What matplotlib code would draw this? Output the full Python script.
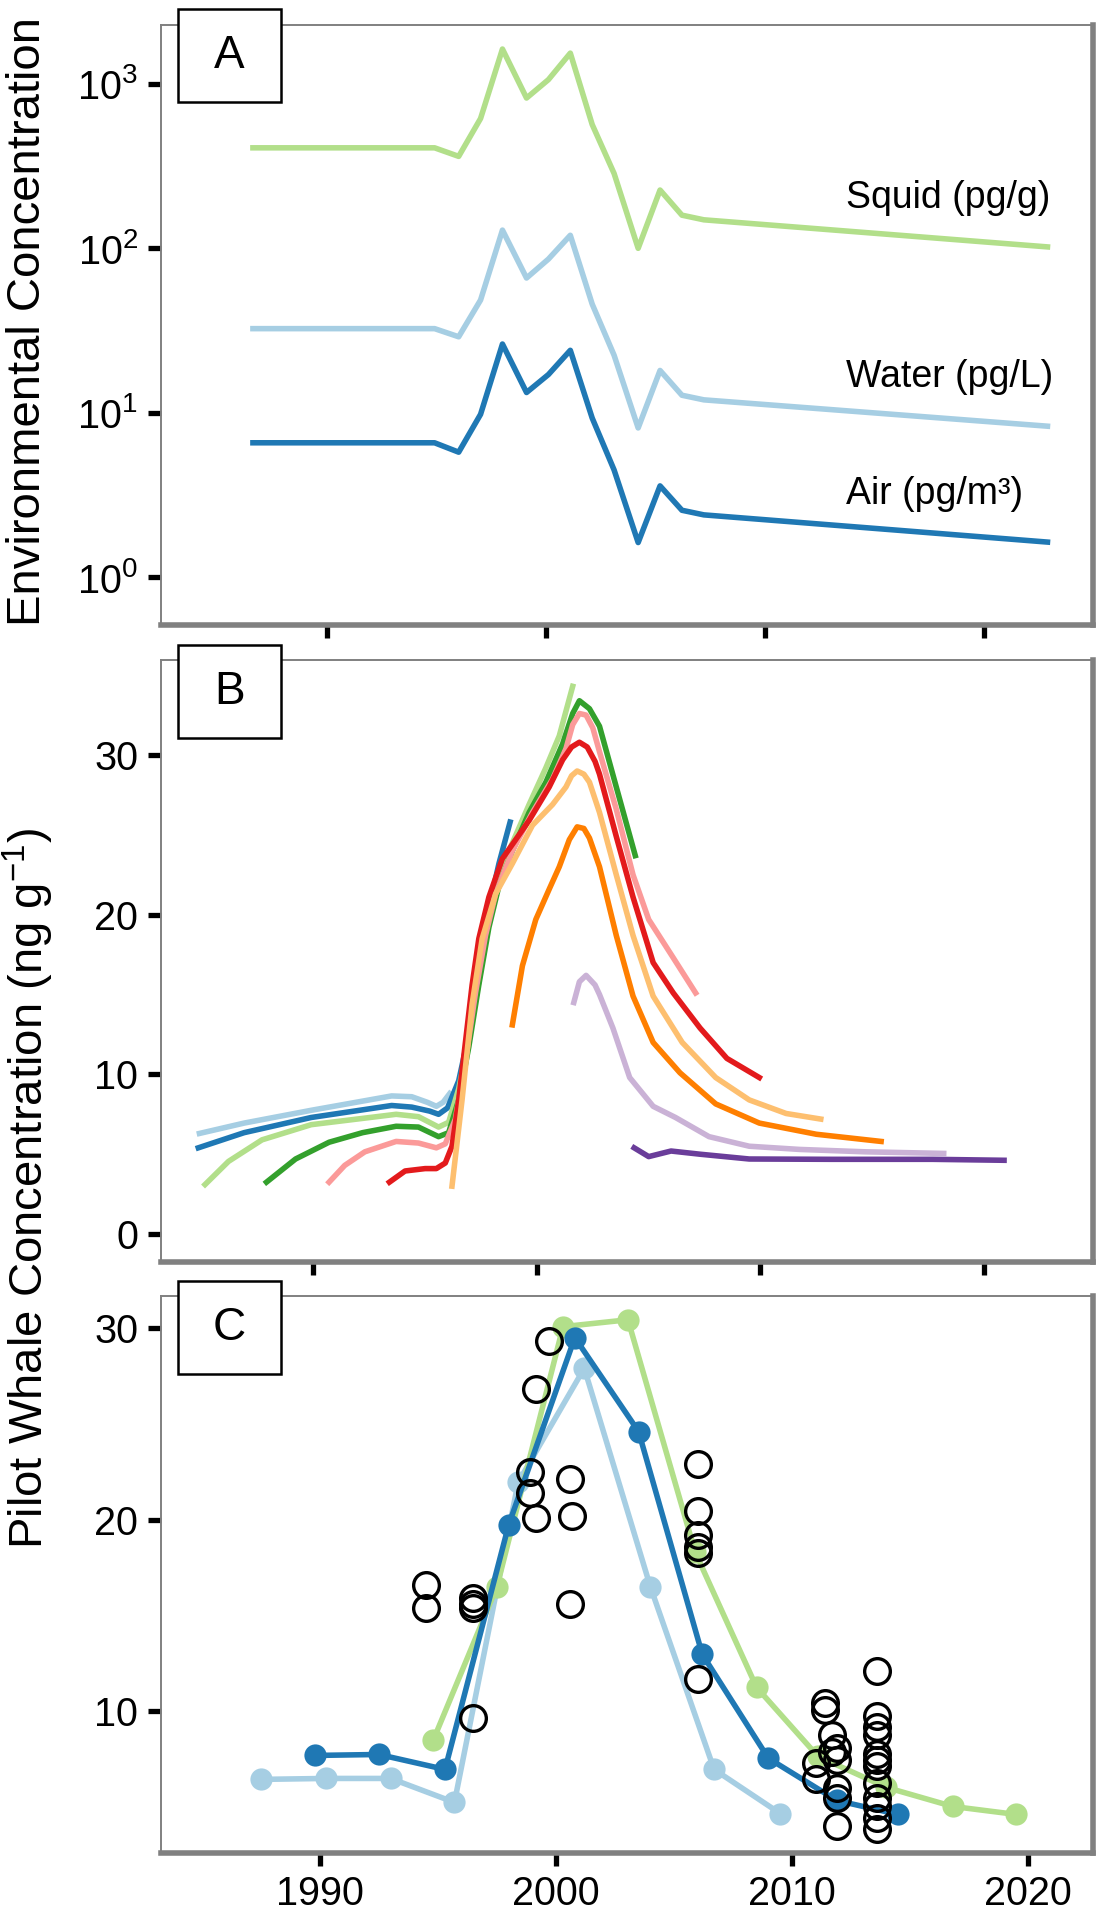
import matplotlib
matplotlib.use("Agg")
import matplotlib.pyplot as plt
from matplotlib.patches import Rectangle

plt.rcParams["font.family"] = ["Liberation Sans", "DejaVu Sans"]
plt.rcParams["mathtext.default"] = "regular"

# ---- Panel A: environmental concentrations (log scale) ----
env_years = [1986.6, 1994.9, 1996.0, 1997.0, 1998.0, 1999.1, 2000.1, 2001.1,
             2002.1, 2003.1, 2004.2, 2005.2, 2006.2, 2007.2, 2022.9]
squid = [408, 408, 362, 615, 1625, 819, 1059, 1535, 565, 285, 100, 226, 159, 149, 102]
water = [32.5, 32.5, 29, 48.5, 129, 66, 86, 120, 45.8, 22.4, 8.1, 18.1, 12.8, 12.0, 8.3]
air = [6.58, 6.58, 5.77, 9.8, 26.2, 13.3, 17.1, 24.0, 9.3, 4.5, 1.63, 3.6, 2.56, 2.4, 1.64]
env_labels = ["Squid (pg/g)", "Water (pg/L)", "Air (pg/m³)"]
env_label_x = 2013.7
env_label_y = [203, 16.6, 3.23]

# ---- Panel B: modelled cohort curves ----
cohorts = {
    "#A6CEE3": ([1984.9, 1986.9, 1989.9, 1993.5, 1994.4, 1995.1, 1995.5, 1995.8, 1996.1],
                [6.3, 6.95, 7.75, 8.65, 8.6, 8.25, 8.0, 8.25, 8.8]),
    "#1F78B4": ([1984.85, 1986.9, 1989.9, 1993.5, 1994.4, 1995.2, 1995.6, 1996.0, 1996.5,
                 1996.95, 1997.4, 1997.85, 1998.3, 1998.8],
                [5.4, 6.35, 7.3, 8.05, 7.95, 7.7, 7.5, 7.9, 9.6, 12.5, 16.3, 20.4, 23.2, 25.8]),
    "#B2DF8A": ([1985.15, 1986.2, 1987.7, 1989.9, 1993.7, 1994.7, 1995.6, 1996.05, 1996.5,
                 1996.95, 1997.4, 1997.85, 1998.3, 1998.75, 1999.65, 2000.4, 2001.0, 2001.6],
                [3.1, 4.55, 5.9, 6.85, 7.5, 7.35, 6.7, 7.0, 9.1, 12.2, 15.8, 19.7, 22.0, 24.0,
                 26.9, 29.2, 31.2, 34.3]),
    "#33A02C": ([1987.9, 1989.2, 1990.7, 1992.2, 1993.7, 1994.7, 1995.6, 1996.05, 1996.5,
                 1996.95, 1997.4, 1997.85, 1998.3, 1998.9, 1999.65, 2000.4, 2001.15, 2001.6,
                 2001.9, 2002.35, 2002.8, 2003.55, 2004.4],
                [3.25, 4.7, 5.75, 6.35, 6.75, 6.7, 6.1, 6.35, 8.4, 11.7, 15.6, 19.2, 21.8, 24.0,
                 26.4, 28.3, 30.7, 32.6, 33.4, 32.9, 31.8, 28.0, 23.7]),
    "#FB9A99": ([1990.7, 1991.4, 1992.3, 1993.7, 1994.7, 1995.5, 1995.9, 1996.35, 1996.8,
                 1997.25, 1997.7, 1998.15, 1998.9, 1999.8, 2000.7, 2001.3, 2001.6, 2001.9,
                 2002.2, 2002.5, 2002.8, 2003.55, 2004.3, 2005.0, 2006.1, 2007.1],
                [3.25, 4.3, 5.15, 5.8, 5.7, 5.4, 5.65, 7.2, 10.8, 15.1, 18.7, 21.3, 24.0, 26.4,
                 28.5, 30.4, 31.9, 32.6, 32.5, 31.7, 30.2, 26.6, 22.5, 19.7, 17.3, 15.1]),
    "#E31A1C": ([1993.4, 1994.1, 1995.0, 1995.5, 1995.9, 1996.2, 1996.5, 1996.8, 1997.1,
                 1997.4, 1997.85, 1998.45, 1999.65, 2000.55, 2001.15, 2001.55, 2001.9,
                 2002.25, 2002.6, 2002.8, 2003.55, 2004.3, 2005.2, 2006.1, 2007.3, 2008.5,
                 2009.95],
                [3.25, 3.95, 4.1, 4.1, 4.45, 5.5, 8.4, 12.0, 15.6, 18.5, 21.1, 23.5, 25.9, 28.0,
                 29.7, 30.5, 30.8, 30.5, 29.6, 28.8, 24.9, 21.1, 17.0, 15.1, 12.9, 11.0, 9.8]),
    "#FDBF6F": ([1996.2, 1996.65, 1997.1, 1997.55, 1998.15, 1998.9, 1999.8, 2000.7, 2001.3,
                 2001.55, 2001.8, 2002.1, 2002.35, 2002.8, 2003.55, 2004.3, 2005.2, 2006.5,
                 2008.0, 2009.5, 2011.15, 2012.7],
                [3.0, 8.4, 14.4, 18.5, 21.3, 23.2, 25.6, 26.9, 28.0, 28.7, 29.0, 28.8, 28.3,
                 26.4, 22.5, 18.7, 14.9, 12.0, 9.8, 8.4, 7.55, 7.2]),
    "#FF7F00": ([1998.9, 1999.35, 1999.95, 2000.55, 2001.0, 2001.45, 2001.8, 2002.1, 2002.35,
                 2002.8, 2003.55, 2004.3, 2005.2, 2006.4, 2008.0, 2009.95, 2012.5, 2015.4],
                [13.1, 16.8, 19.7, 21.6, 23.0, 24.7, 25.5, 25.4, 24.8, 23.0, 18.7, 14.9, 12.0,
                 10.1, 8.15, 6.95, 6.25, 5.8]),
    "#CAB2D6": ([2001.65, 2001.9, 2002.2, 2002.6, 2002.8, 2003.4, 2004.15, 2005.2, 2006.2,
                 2007.7, 2009.5, 2011.75, 2014.7, 2018.2],
                [14.5, 15.8, 16.2, 15.6, 15.0, 12.9, 9.8, 8.0, 7.3, 6.1, 5.5, 5.3, 5.15, 5.05]),
    "#6A3D9A": ([2004.35, 2005.0, 2006.0, 2007.3, 2009.5, 2013.2, 2017.7, 2020.9],
                [5.4, 4.85, 5.2, 5.0, 4.7, 4.68, 4.68, 4.62]),
}

# ---- Panel C: observed whale concentrations and fitted series ----
lb_years = [1987.5, 1990.25, 1993.0, 1995.7, 1998.4, 2001.2, 2004.0, 2006.7, 2009.5]
lb_vals = [6.45, 6.5, 6.5, 5.25, 21.95, 27.9, 16.5, 6.97, 4.67]
db_years = [1989.8, 1992.5, 1995.3, 1998.0, 2000.8, 2003.5, 2006.2, 2009.0, 2011.9, 2014.5]
db_vals = [7.7, 7.75, 6.97, 19.74, 29.5, 24.6, 12.97, 7.55, 5.35, 4.62]
lg_years = [1994.8, 1997.5, 2000.3, 2003.05, 2005.9, 2008.5, 2011.1, 2014.0, 2016.8, 2019.5]
lg_vals = [8.49, 16.5, 30.07, 30.43, 18.3, 11.25, 7.65, 6.03, 5.04, 4.62]

obs_years = [1994.5, 1994.5, 1996.5, 1996.5, 1996.5, 1996.5,
             1998.9, 1998.9, 1999.15, 1999.15, 1999.7,
             2000.6, 2000.7, 2000.6,
             2006.0, 2006.0, 2006.0, 2006.0, 2006.0, 2006.0,
             2011.4, 2011.4, 2011.7, 2011.9, 2011.9, 2011.0, 2011.0, 2011.9, 2011.9, 2011.9, 2011.7,
             2013.6, 2013.6, 2013.6, 2013.6, 2013.6, 2013.6, 2013.6, 2013.6, 2013.6, 2013.6,
             2013.6, 2013.6]
obs_vals = [16.6, 15.4, 15.9, 15.6, 15.4, 9.64,
            22.5, 21.4, 20.1, 26.8, 29.3,
            22.1, 20.2, 15.6,
            22.9, 20.45, 19.2, 18.55, 18.25, 11.7,
            10.45, 10.05, 8.75, 8.07, 7.44, 7.3, 6.45, 6.0, 5.5, 4.0, 7.9,
            12.1, 9.74, 9.16, 8.75, 7.75, 7.44, 7.13, 6.24, 5.46, 5.04, 4.46, 3.84]

year_ticks = [1990, 2000, 2010, 2020]

W, H = 1108, 1920
fig = plt.figure(figsize=(W / 100, H / 100), dpi=100)


def px_axes(left, top, right, bottom):
    return fig.add_axes([left / W, 1 - bottom / H, (right - left) / W, (bottom - top) / H])


def style_box(ax):
    # thin grey top/left, heavier "shadow" edge bottom/right
    for side in ["top", "left"]:
        ax.spines[side].set_linewidth(1.4)
        ax.spines[side].set_color("#808080")
    for side in ["bottom", "right"]:
        ax.spines[side].set_linewidth(4.0)
        ax.spines[side].set_color("#808080")
    ax.tick_params(axis="both", which="major", length=9.5, width=3.8, labelsize=28.5,
                   color="black", direction="out")
    ax.tick_params(axis="y", pad=7)
    ax.tick_params(axis="x", pad=6)
    ax.tick_params(which="minor", left=False, bottom=False)
    ax.set_xticks(year_ticks)


def panel_label(letter, top):
    x0, x1 = 178, 281
    rect = Rectangle((x0 / W, 1 - (top + 93) / H), (x1 - x0) / W, 93 / H,
                     transform=fig.transFigure, facecolor="white", edgecolor="black",
                     linewidth=1.8, zorder=10)
    fig.add_artist(rect)
    fig.text((x0 + x1) / 2 / W, 1 - (top + 46.5) / H, letter, ha="center", va="center",
             fontsize=33, zorder=11)


LW = 4.0

# Panel A
axA = px_axes(161, 25, 1093, 625)
axA.set_yscale("log")
axA.plot(env_years, squid, color="#B2DF8A", lw=LW)
axA.plot(env_years, water, color="#A6CEE3", lw=LW)
axA.plot(env_years, air, color="#1F78B4", lw=LW)
for lab, yv in zip(env_labels, env_label_y):
    axA.text(env_label_x, yv, lab, fontsize=27, ha="left", va="center")
axA.set_xlim(1982.4, 2024.98)
axA.set_ylim(10 ** -0.289, 10 ** 3.357)
style_box(axA)
axA.set_yticks([1, 10, 100, 1000])
axA.set_yticklabels([r"$10^{0}$", r"$10^{1}$", r"$10^{2}$", r"$10^{3}$"])
axA.yaxis.set_minor_locator(matplotlib.ticker.NullLocator())
axA.set_xticklabels([])

# Panel B
axB = px_axes(161, 660, 1093, 1262)
for col, (xs, ys) in cohorts.items():
    axB.plot(xs, ys, color=col, lw=LW, solid_joinstyle="round")
axB.set_xlim(1983.18, 2024.88)
axB.set_ylim(-1.75, 35.95)
style_box(axB)
axB.set_yticks([0, 10, 20, 30])
axB.set_xticklabels([])

# Panel C
axC = px_axes(161, 1296, 1093, 1853)
axC.plot(lb_years, lb_vals, "-o", color="#A6CEE3", lw=LW, ms=16, mew=0)
axC.plot(lg_years, lg_vals, "-o", color="#B2DF8A", lw=LW, ms=16, mew=0)
axC.plot(db_years, db_vals, "-o", color="#1F78B4", lw=LW, ms=16, mew=0)
axC.plot(obs_years, obs_vals, "o", mfc="none", mec="black", ms=18.5, mew=2.4, ls="none")
axC.set_xlim(1983.27, 2022.75)
axC.set_ylim(2.61, 31.67)
style_box(axC)
axC.set_yticks([10, 20, 30])

panel_label("A", 9)
panel_label("B", 645)
panel_label("C", 1281)

fig.text(28 / W, 1 - 322 / H, "Environmental Concentration", rotation=90,
         ha="center", va="center", fontsize=34)
fig.text(28 / W, 1 - 1188 / H, r"Pilot Whale Concentration (ng g$^{-1}$)", rotation=90,
         ha="center", va="center", fontsize=34)

fig.savefig("out.png", dpi=100, facecolor="white")
